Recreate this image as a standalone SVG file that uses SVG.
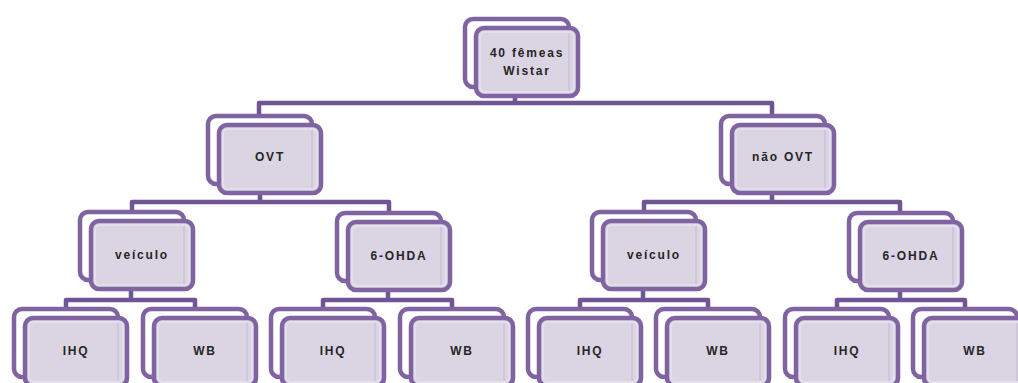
<svg xmlns="http://www.w3.org/2000/svg" width="1018" height="383" viewBox="0 0 1018 383">
<defs>
<style>
.back{fill:#ffffff;stroke:#8064a2;stroke-width:4.5}
.front{fill:#dad4e3;stroke:#8064a2;stroke-width:4.5}
.bevel{fill:none;stroke:#e4e0eb;stroke-width:2}
.shade{fill:none;stroke:#cfc8dc;stroke-width:2}
.conn{fill:none;stroke:#6f5595;stroke-width:4.5;stroke-linejoin:round}
text{font-family:"Liberation Sans",Arial,sans-serif;font-size:12px;font-weight:bold;fill:#262626;text-anchor:middle;letter-spacing:1.8px}
</style>
<g id="card">
<rect class="back" x="2" y="2" width="104" height="68" rx="8"/>
<rect class="front" x="13" y="11" width="102" height="68" rx="8"/>
<rect class="bevel" x="17" y="15" width="94" height="60" rx="5"/>
<path class="shade" d="M106 16 V74"/>
</g>
</defs>
<g id="connectors">
<path class="conn" d="M515 97 V103 M259 114 V103 H772 V114"/>
<path class="conn" d="M260 193 V202 M132 211 V202 H389 V211"/>
<path class="conn" d="M772 193 V202 M644 211 V202 H900 V211"/>
<path class="conn" d="M131 291 V300 M66 308 V300 H195 V308"/>
<path class="conn" d="M388 292 V300 M323 308 V300 H452 V308"/>
<path class="conn" d="M643 291 V300 M580 308 V300 H708 V308"/>
<path class="conn" d="M900 292 V300 M837 308 V300 H965 V308"/>
</g>
<g id="n-top" transform="translate(463,17)"><use href="#card"/><text x="64" y="40">40 fêmeas</text><text x="64" y="58">Wistar</text></g>
<g id="n-ovt" transform="translate(206,114)"><use href="#card"/><text x="64" y="47">OVT</text></g>
<g id="n-nao-ovt" transform="translate(719,114)"><use href="#card"/><text x="64" y="47">não OVT</text></g>
<g id="n-veiculo-1" transform="translate(78,210)"><use href="#card"/><text x="64" y="49">veículo</text></g>
<g id="n-6ohda-1" transform="translate(335,211)"><use href="#card"/><text x="64" y="49">6-OHDA</text></g>
<g id="n-veiculo-2" transform="translate(590,210)"><use href="#card"/><text x="64" y="49">veículo</text></g>
<g id="n-6ohda-2" transform="translate(847,211)"><use href="#card"/><text x="64" y="49">6-OHDA</text></g>
<g id="n-ihq-1" transform="translate(12,307)"><use href="#card"/><text x="64" y="48">IHQ</text></g>
<g id="n-wb-1" transform="translate(141,307)"><use href="#card"/><text x="64" y="48">WB</text></g>
<g id="n-ihq-2" transform="translate(269,307)"><use href="#card"/><text x="64" y="48">IHQ</text></g>
<g id="n-wb-2" transform="translate(398,307)"><use href="#card"/><text x="64" y="48">WB</text></g>
<g id="n-ihq-3" transform="translate(526,307)"><use href="#card"/><text x="64" y="48">IHQ</text></g>
<g id="n-wb-3" transform="translate(654,307)"><use href="#card"/><text x="64" y="48">WB</text></g>
<g id="n-ihq-4" transform="translate(783,307)"><use href="#card"/><text x="64" y="48">IHQ</text></g>
<g id="n-wb-4" transform="translate(911,307)"><use href="#card"/><text x="64" y="48">WB</text></g>
</svg>
